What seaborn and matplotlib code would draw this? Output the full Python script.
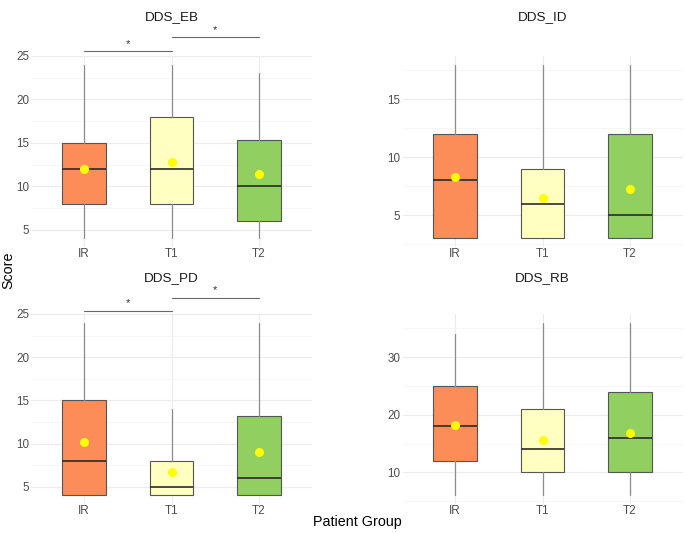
import numpy as np
import pandas as pd
import matplotlib
matplotlib.use("Agg")
import matplotlib.pyplot as plt
import seaborn as sns
from matplotlib.ticker import MultipleLocator

sns.set_theme(style="whitegrid")
plt.rcParams['font.family'] = ['Liberation Sans', 'DejaVu Sans']

groups = ["IR", "T1", "T2"]
group_colors = ["#FC8D59", "#FFFFBF", "#91CF60"]
panels = ["DDS_EB", "DDS_ID", "DDS_PD", "DDS_RB"]

# box summaries: lower whisker, Q1, median, Q3, upper whisker, mean
eb_low = [4, 4, 4]
eb_q1 = [8, 8, 6]
eb_med = [12, 12, 10]
eb_q3 = [15, 18, 15.3]
eb_high = [24, 24, 23]
eb_mean = [12.0, 12.8, 11.4]

id_low = [3, 3, 3]
id_q1 = [3, 3, 3]
id_med = [8, 6, 5]
id_q3 = [12, 9, 12]
id_high = [18, 18, 18]
id_mean = [8.3, 6.5, 7.3]

pd_low = [4, 4, 4]
pd_q1 = [4, 4, 4]
pd_med = [8, 5, 6]
pd_q3 = [15, 8, 13.2]
pd_high = [24, 14, 24]
pd_mean = [10.2, 6.7, 9.0]

rb_low = [6, 6, 6]
rb_q1 = [12, 10, 10]
rb_med = [18, 14, 16]
rb_q3 = [25, 21, 24]
rb_high = [34, 36, 36]
rb_mean = [18.2, 15.7, 16.8]

# significance brackets: (from group, to group, height)
eb_sig = [("IR", "T1", 25.6), ("T1", "T2", 27.2)]
pd_sig = [("IR", "T1", 25.4), ("T1", "T2", 26.9)]

panel_data = {
    "DDS_EB": (eb_low, eb_q1, eb_med, eb_q3, eb_high, eb_mean, eb_sig),
    "DDS_ID": (id_low, id_q1, id_med, id_q3, id_high, id_mean, []),
    "DDS_PD": (pd_low, pd_q1, pd_med, pd_q3, pd_high, pd_mean, pd_sig),
    "DDS_RB": (rb_low, rb_q1, rb_med, rb_q3, rb_high, rb_mean, []),
}
y_steps = {"DDS_EB": 5, "DDS_ID": 5, "DDS_PD": 5, "DDS_RB": 10}

W, H = 685, 533
fig = plt.figure(figsize=(W / 100, H / 100), dpi=100)
fig.patch.set_facecolor("white")

rects = {
    "DDS_EB": [31.5 / W, (H - 247) / H, 280 / W, 191 / H],
    "DDS_ID": [402.5 / W, (H - 247) / H, 280 / W, 191 / H],
    "DDS_PD": [31.5 / W, (H - 504) / H, 280 / W, 190 / H],
    "DDS_RB": [402.5 / W, (H - 504) / H, 280 / W, 190 / H],
}
title_pad = {"DDS_EB": 26, "DDS_ID": 26, "DDS_PD": 23.5, "DDS_RB": 23.5}

for name in panels:
    low, q1, med, q3, high, mean, sig = panel_data[name]
    ax = fig.add_axes(rects[name])
    ax.set_facecolor("white")

    stats = [dict(whislo=low[i], q1=q1[i], med=med[i], q3=q3[i], whishi=high[i],
                  fliers=[], label=g) for i, g in enumerate(groups)]
    bp = ax.bxp(stats, positions=range(len(groups)), widths=0.5, patch_artist=True,
                showcaps=False, showfliers=False,
                boxprops=dict(edgecolor="#555555", linewidth=0.8),
                whiskerprops=dict(color="#8c8c8c", linewidth=0.9),
                medianprops=dict(color="#2b2b2b", linewidth=1.2))
    for patch, c in zip(bp["boxes"], group_colors):
        patch.set_facecolor(c)

    means = pd.DataFrame({"group": groups, "mean": mean})
    sns.stripplot(data=means, x="group", y="mean", order=groups, jitter=False,
                  color="#FFFF00", size=6.5, linewidth=0, ax=ax, zorder=5)

    for a, b, h in sig:
        xa, xb = groups.index(a), groups.index(b)
        ax.plot([xa, xb], [h, h], color="#666666", lw=0.8, clip_on=False)
        ax.annotate("*", ((xa + xb) / 2, h), xytext=(0, 1.5), textcoords="offset points",
                    ha="center", va="bottom", fontsize=8, color="#333333",
                    annotation_clip=False)

    # ggplot-style 5% expansion of the data range
    lo, hi = min(low), max(high)
    span = hi - lo
    ax.set_xlim(-0.6, 2.6)
    ax.set_ylim(lo - 0.05 * span, hi + 0.05 * span)
    ax.yaxis.set_major_locator(MultipleLocator(y_steps[name]))
    ax.yaxis.set_minor_locator(MultipleLocator(y_steps[name] / 2))
    ax.set_xticks(range(len(groups)))
    ax.set_xticklabels(groups)
    ax.grid(True, which="major", color="#EBEBEB", linewidth=0.8)
    ax.grid(True, which="minor", axis="y", color="#F3F3F3", linewidth=0.5)
    ax.set_axisbelow(True)
    for s in ax.spines.values():
        s.set_visible(False)
    ax.tick_params(axis="both", which="both", length=0, labelsize=8.4,
                   labelcolor="#4D4D4D")
    ax.tick_params(axis="x", pad=1)
    ax.tick_params(axis="y", pad=1.5)
    ax.set_xlabel("")
    ax.set_ylabel("")
    ax.set_title(name, fontsize=9.7, color="#1A1A1A", pad=title_pad[name])

fig.text(8 / W, 1 - 270 / H, "Score", rotation=90, ha="center", va="center",
         fontsize=10.3, color="#000000")
fig.text(357 / W, 1 - 522 / H, "Patient Group", ha="center", va="center",
         fontsize=10.3, color="#000000")

fig.savefig("out.png", dpi=100, facecolor="white")
